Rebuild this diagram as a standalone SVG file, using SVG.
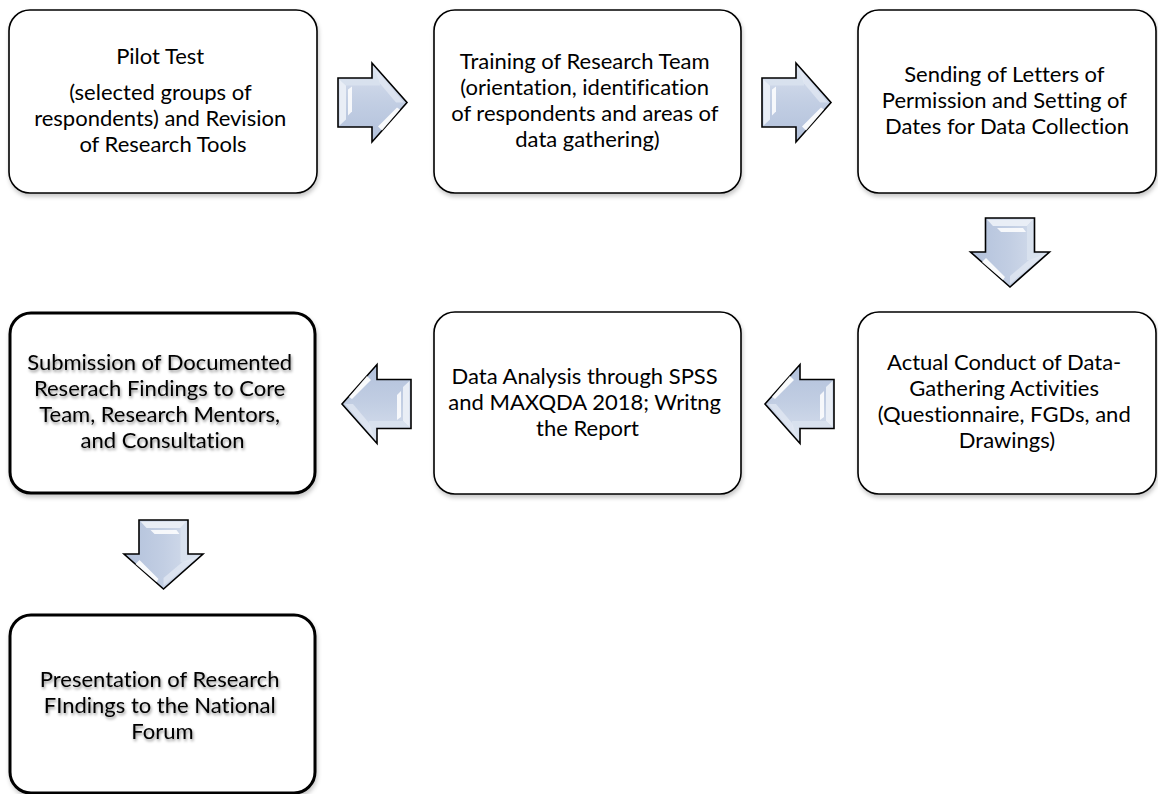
<svg xmlns="http://www.w3.org/2000/svg" xmlns:xlink="http://www.w3.org/1999/xlink" width="1158" height="794" viewBox="0 0 1158 794">
  <style>
    .box { fill: #ffffff; stroke: #000000; stroke-width: 1.6; filter: url(#boxShadow); }
    .box.bold { stroke-width: 3; }
    .label { font-family: Lato, "Liberation Sans", sans-serif; font-size: 22px; fill: #000000; text-anchor: middle; font-variant-ligatures: none; font-feature-settings: "liga" 0, "dlig" 0; }
    .label.shadowed { filter: url(#textShadow); }
  </style>
  <defs>
    <filter id="boxShadow" x="-10%" y="-10%" width="120%" height="125%">
      <feDropShadow dx="1" dy="3" stdDeviation="2" flood-color="#000" flood-opacity="0.22"/>
    </filter>
    <filter id="textShadow" x="-10%" y="-30%" width="120%" height="160%">
      <feDropShadow dx="1" dy="2" stdDeviation="1.5" flood-color="#000" flood-opacity="0.45"/>
    </filter>
    <linearGradient id="arrowFill" x1="0" y1="0" x2="0" y2="1">
      <stop offset="0" stop-color="#d9e1ee"/>
      <stop offset="0.5" stop-color="#c2cee3"/>
      <stop offset="1" stop-color="#b2c1db"/>
    </linearGradient>
    <!-- bevelled block arrow pointing right, origin at the middle of the back end -->
    <g id="arrow">
      <path d="M0,-24.5 H34 V-39.5 L69,0 L34,39.5 V24.5 H0 Z" fill="url(#arrowFill)" stroke="#000" stroke-width="1.6" stroke-linejoin="miter"/>
      <path d="M1.5,-23 L8,-17 L8,17 L1.5,23 Z" fill="#e9eef6"/>
      <path d="M1.5,-23 H35.5 V-36 L42,-27 V-17 H8 Z" fill="#dbe3ef" opacity="0.8"/>
      <path d="M10,-13 L14,-16 L14,9 L10,13 Z" fill="#ffffff" opacity="0.85"/>
      <path d="M36,-35 L66,0 L58,0 L42,-19 Z" fill="#e4eaf3" opacity="0.7"/>
      <path d="M40,24 L59,5 L62,7 L44,28 Z" fill="#ffffff" opacity="0.9"/>
    </g>
  </defs>

  <!-- connectors -->
  <g id="connectors">
    <use xlink:href="#arrow" transform="translate(338,102.5)"/>
    <use xlink:href="#arrow" transform="translate(762,102.5)"/>
    <use xlink:href="#arrow" transform="translate(1010,218) rotate(90)"/>
    <use xlink:href="#arrow" transform="translate(834,404) rotate(180)"/>
    <use xlink:href="#arrow" transform="translate(411,404) rotate(180)"/>
    <use xlink:href="#arrow" transform="translate(163.5,520) rotate(90)"/>
  </g>

  <g id="pilot-test">
    <rect class="box" x="9" y="10" width="308" height="183" rx="21"/>
    <text class="label">
      <tspan x="163" y="64">Pilot Test</tspan>
      <tspan x="163" y="100">(selected groups of</tspan>
      <tspan x="163" y="126">respondents) and Revision</tspan>
      <tspan x="163" y="152">of Research Tools</tspan>
    </text>
  </g>

  <g id="training">
    <rect class="box" x="434" y="10" width="307" height="183" rx="21"/>
    <text class="label">
      <tspan x="587.5" y="69">Training of Research Team</tspan>
      <tspan x="587.5" y="95">(orientation, identification</tspan>
      <tspan x="587.5" y="121">of respondents and areas of</tspan>
      <tspan x="587.5" y="147">data gathering)</tspan>
    </text>
  </g>

  <g id="letters">
    <rect class="box" x="858" y="10" width="298" height="183" rx="21"/>
    <text class="label">
      <tspan x="1007" y="82">Sending of Letters of</tspan>
      <tspan x="1007" y="108">Permission and Setting of</tspan>
      <tspan x="1007" y="134">Dates for Data Collection</tspan>
    </text>
  </g>

  <g id="data-gathering">
    <rect class="box" x="858" y="312" width="298" height="182" rx="21"/>
    <text class="label">
      <tspan x="1007" y="370">Actual Conduct of Data-</tspan>
      <tspan x="1007" y="396">Gathering Activities</tspan>
      <tspan x="1007" y="422">(Questionnaire, FGDs, and</tspan>
      <tspan x="1007" y="448">Drawings)</tspan>
    </text>
  </g>

  <g id="data-analysis">
    <rect class="box" x="434" y="312" width="307" height="182" rx="21"/>
    <text class="label">
      <tspan x="587.5" y="384">Data Analysis through SPSS</tspan>
      <tspan x="587.5" y="410">and MAXQDA 2018; Writng</tspan>
      <tspan x="587.5" y="436">the Report</tspan>
    </text>
  </g>

  <g id="submission">
    <rect class="box bold" x="10" y="313" width="305" height="180" rx="21"/>
    <text class="label shadowed">
      <tspan x="162.5" y="370">Submission of Documented</tspan>
      <tspan x="162.5" y="396">Reserach Findings to Core</tspan>
      <tspan x="162.5" y="422">Team, Research Mentors,</tspan>
      <tspan x="162.5" y="448">and Consultation</tspan>
    </text>
  </g>

  <g id="presentation">
    <rect class="box bold" x="10" y="615" width="305" height="178" rx="21"/>
    <text class="label shadowed">
      <tspan x="162.5" y="687">Presentation of Research</tspan>
      <tspan x="162.5" y="713">FIndings to the National</tspan>
      <tspan x="162.5" y="739">Forum</tspan>
    </text>
  </g>
</svg>
